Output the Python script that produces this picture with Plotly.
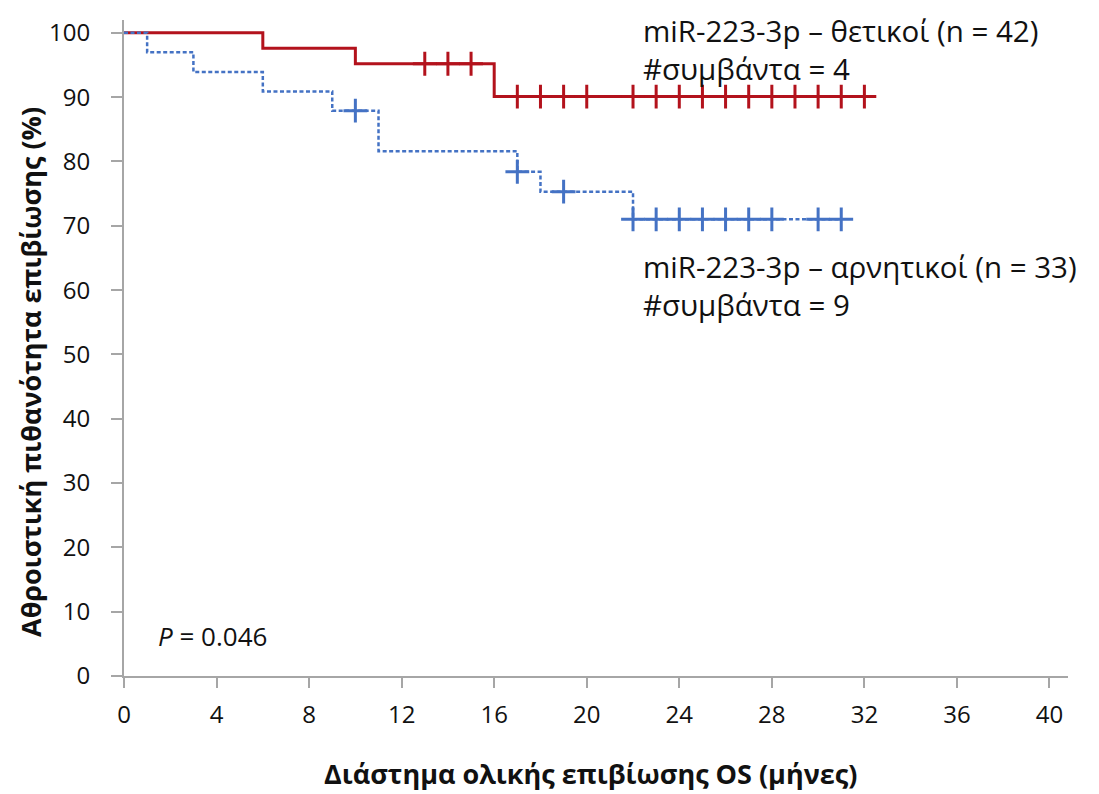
import numpy as np
import plotly.graph_objects as go

# ---- data ----
pos_times = [0, 6, 10, 16, 32]
pos_surv = [100, 97.6, 95.2, 90.1, 90.1]
pos_censor = [13, 14, 15, 17, 18, 19, 20, 22, 23, 24, 25, 26, 27, 28, 29, 30, 31, 32]

neg_times = [0, 1, 3, 6, 9, 11, 17, 18, 22, 31]
neg_surv = [100, 97.0, 93.9, 90.9, 87.9, 81.6, 78.4, 75.3, 71.0, 71.0]
neg_censor = [10, 17, 19, 22, 23, 24, 25, 26, 27, 28, 30, 31]

x_ticks = [0, 4, 8, 12, 16, 20, 24, 28, 32, 36, 40]
y_ticks = [0, 10, 20, 30, 40, 50, 60, 70, 80, 90, 100]

RED = "#B3121C"
BLUE = "#4472C4"
AXIS = "#A6A6A6"
FONT = "Open Sans"
TXT = "#111111"


def step_lookup(times, surv, t):
    idx = np.searchsorted(np.array(times), np.array(t), side="right") - 1
    return [surv[i] for i in idx]


fig = go.Figure()
fig.add_trace(go.Scatter(x=pos_times, y=pos_surv, mode="lines", line_shape="hv",
                         line=dict(color=RED, width=3), showlegend=False, hoverinfo="skip"))
fig.add_trace(go.Scatter(x=pos_censor, y=step_lookup(pos_times, pos_surv, pos_censor), mode="markers",
                         marker=dict(symbol="cross-thin", size=17, line=dict(color=RED, width=3)),
                         showlegend=False))
fig.add_trace(go.Scatter(x=neg_times, y=neg_surv, mode="lines", line_shape="hv",
                         line=dict(color=BLUE, width=2.5, dash="4px,2.5px"), showlegend=False, hoverinfo="skip"))
fig.add_trace(go.Scatter(x=neg_censor, y=step_lookup(neg_times, neg_surv, neg_censor), mode="markers",
                         marker=dict(symbol="cross-thin", size=17, line=dict(color=BLUE, width=3)),
                         showlegend=False))

W, H = 1099, 794
L, R, T, B = 124, 31, 20, 118
PW, PH = W - L - R, H - T - B
px_per_unit_x = PW / 40.8
px_per_unit_y = PH / 102.0


def dx(px):
    return (px - L) / px_per_unit_x


def dy(py):
    return (H - B - py) / px_per_unit_y


def paper_x(px):
    return (px - L) / PW


def paper_y(py):
    return (H - B - py) / PH


ann_font = dict(family=FONT, size=29.5, color=TXT)
texts = [
    ("miR-223-3p – θετικοί (n = 42)<br>#συμβάντα = 4", 49),
    ("miR-223-3p – αρνητικοί (n = 33)<br>#συμβάντα = 9", 285),
]
layout_ann = [dict(x=dx(641), y=dy(ypix), xref="x", yref="y", text=t, showarrow=False,
                   xanchor="left", yanchor="middle", align="left", font=ann_font) for t, ypix in texts]
layout_ann.append(dict(x=dx(156), y=dy(636), xref="x", yref="y",
                       text="<i>P</i> = 0.046", showarrow=False, xanchor="left", yanchor="middle",
                       font=dict(family=FONT, size=26, color=TXT)))
# axis titles
layout_ann.append(dict(x=paper_x(590), y=paper_y(773), xref="paper", yref="paper",
                       text="<b>Διάστημα ολικής επιβίωσης OS (μήνες)</b>", showarrow=False,
                       xanchor="center", yanchor="middle", font=dict(family=FONT, size=27, color=TXT)))
layout_ann.append(dict(x=paper_x(30), y=paper_y(372), xref="paper", yref="paper", textangle=-90,
                       text="<b>Αθροιστική πιθανότητα επιβίωσης (%)</b>", showarrow=False,
                       xanchor="center", yanchor="middle", font=dict(family=FONT, size=27, color=TXT)))

fig.update_layout(
    width=W, height=H,
    margin=dict(l=L, r=R, t=T, b=B),
    paper_bgcolor="white", plot_bgcolor="white",
    font=dict(family=FONT, color=TXT),
    annotations=layout_ann,
    xaxis=dict(range=[0, 40.8], tickvals=x_ticks, ticktext=[str(v) for v in x_ticks],
               showgrid=False, zeroline=False, showline=True, linecolor=AXIS, linewidth=2,
               ticks="outside", ticklen=10, tickwidth=2, tickcolor=AXIS,
               tickfont=dict(family=FONT, size=24, color=TXT), ticklabelstandoff=6),
    yaxis=dict(range=[0, 102], tickvals=y_ticks, ticktext=[str(v) for v in y_ticks],
               showgrid=False, zeroline=False, showline=True, linecolor=AXIS, linewidth=2,
               ticks="outside", ticklen=11, tickwidth=2, tickcolor=AXIS,
               tickfont=dict(family=FONT, size=24, color=TXT), ticklabelstandoff=16),
)

fig.write_html("out.html")
